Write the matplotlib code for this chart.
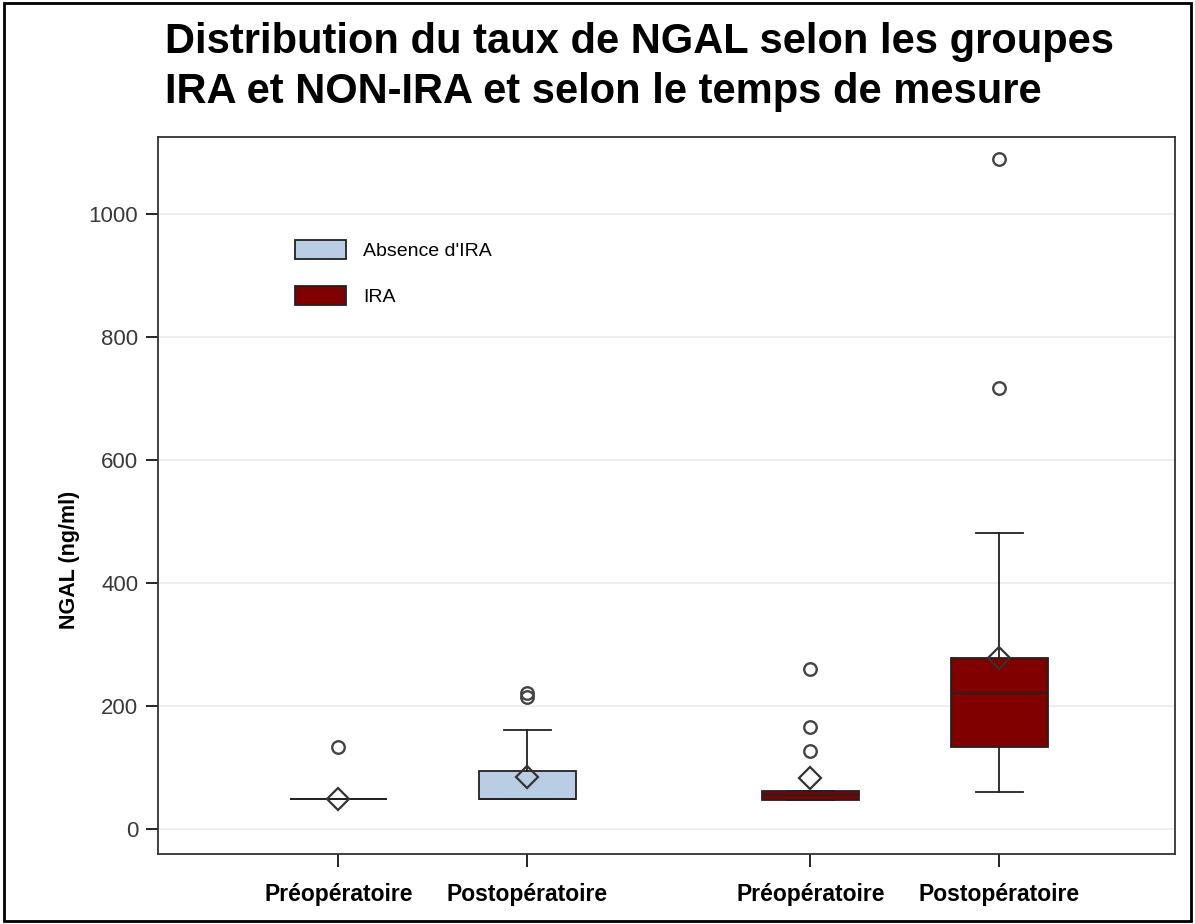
import matplotlib.pyplot as plt
from matplotlib.patches import Patch, Rectangle

# data (ng/ml)
groups = ["Absence d'IRA", "IRA"]
times = ["Préopératoire", "Postopératoire"]
colors = ["#B9CDE5", "#800000"]

# order: absence pre, absence post, IRA pre, IRA post
q1 = [49, 49, 47, 133]
med = [49, 49, 55, 221]
q3 = [49, 94, 63, 278]
whislo = [49, 49, 47, 60]
whishi = [49, 161, 63, 481]
means = [49, 85, 83, 278]
fliers = [[133], [215, 221], [127, 166, 260], [717, 1089]]

plt.rcParams['font.family'] = ['Liberation Sans', 'DejaVu Sans']

fig = plt.figure(figsize=(11.95, 9.24), dpi=100)
ax = fig.add_axes([0.132, 0.0758, 0.851, 0.776])

positions = []
for g in range(len(groups)):
    positions += [g + 1 - 0.2, g + 1 + 0.2]

stats = []
for i in range(4):
    stats.append(dict(q1=q1[i], med=med[i], q3=q3[i], whislo=whislo[i],
                      whishi=whishi[i], mean=means[i], fliers=fliers[i]))

bp = ax.bxp(stats, positions=positions, widths=0.205, patch_artist=True,
            showmeans=True, showcaps=True,
            boxprops=dict(edgecolor="#222222", linewidth=1.3),
            medianprops=dict(color="#222222", linewidth=1.3),
            whiskerprops=dict(color="#222222", linewidth=1.3),
            capprops=dict(color="#222222", linewidth=1.3),
            capwidths=0.1,
            meanprops=dict(marker="D", markerfacecolor="none", markeredgecolor="#333333",
                           markersize=11, markeredgewidth=1.6),
            flierprops=dict(marker="o", markerfacecolor="none", markeredgecolor="#444444",
                            markersize=9, markeredgewidth=1.7),
            zorder=3)
for i, box in enumerate(bp["boxes"]):
    box.set_facecolor(colors[i // 2])

ax.set_xlim(0.417, 2.572)
ax.set_ylim(-40, 1125)
ax.set_xticks(positions)
ax.set_xticklabels(times * 2, fontsize=16.5, fontweight="bold")
ax.set_yticks([0, 200, 400, 600, 800, 1000])
ax.tick_params(axis="y", labelsize=16, labelcolor="#3a3a3a", length=9, width=1.2, pad=5)
ax.tick_params(axis="x", length=9, width=1.2, pad=12)
ax.yaxis.grid(True, color="#EBEBEB", linewidth=1.2, zorder=0)
ax.set_axisbelow(True)
for s in ax.spines.values():
    s.set_linewidth(1.3)
    s.set_color("#333333")

ax.set_ylabel("NGAL (ng/ml)", fontsize=15.5, fontweight="bold")
ax.yaxis.set_label_coords(-0.076, 0.41)

handles = [Patch(facecolor=c, edgecolor="#222222", linewidth=1.3) for c in colors]
ax.legend(handles, groups, loc="upper left", bbox_to_anchor=(0.135, 0.856),
          frameon=False, fontsize=14, handlelength=2.6, handleheight=1.1,
          labelspacing=1.35, handletextpad=0.9, borderpad=0, borderaxespad=0)

fig.text(0.138, 0.976, "Distribution du taux de NGAL selon les groupes\nIRA et NON-IRA et selon le temps de mesure",
         fontsize=30, fontweight="bold", ha="left", va="top", linespacing=1.32)

fig.patches.append(Rectangle((0.003, 0.003), 0.994, 0.994, transform=fig.transFigure,
                             fill=False, edgecolor="black", linewidth=2))

plt.savefig("out.png", dpi=100)
